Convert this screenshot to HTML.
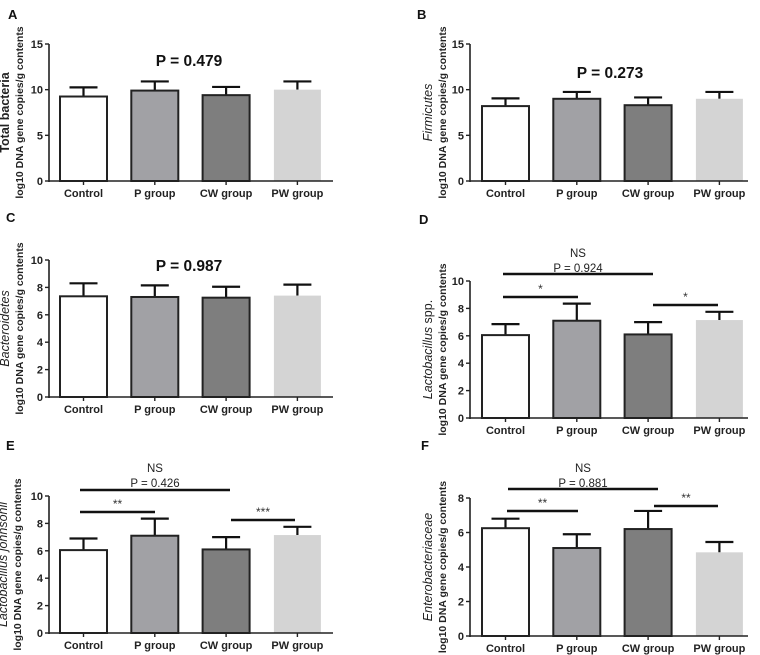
<!DOCTYPE html>
<html><head><meta charset="utf-8"><style>
html,body{margin:0;padding:0;background:#fff;}
svg{display:block;font-family:"Liberation Sans",Arial,sans-serif;}
</style></head><body>
<svg id="fig" width="760" height="655" viewBox="0 0 760 655" xmlns="http://www.w3.org/2000/svg"></svg>
<script>
const categories = ["Control","P group","CW group","PW group"];
const valuesA = [9.25, 9.9, 9.4, 10.0];
const errorsA = [1.0, 1.0, 0.9, 0.9];
const valuesB = [8.2, 9.0, 8.3, 9.0];
const errorsB = [0.85, 0.75, 0.85, 0.75];
const valuesC = [7.35, 7.3, 7.25, 7.4];
const errorsC = [0.95, 0.85, 0.8, 0.8];
const valuesD = [6.05, 7.1, 6.1, 7.15];
const errorsD = [0.8, 1.25, 0.9, 0.6];
const valuesE = [6.05, 7.1, 6.1, 7.15];
const errorsE = [0.85, 1.25, 0.9, 0.6];
const valuesF = [6.25, 5.1, 6.2, 4.85];
const errorsF = [0.55, 0.8, 1.05, 0.6];
const ticksA = [0,5,10,15];
const ticks10 = [0,2,4,6,8,10];
const ticks8 = [0,2,4,6,8];

const NS = "http://www.w3.org/2000/svg";
const svg = document.getElementById('fig');
const fills = ["#ffffff","#a1a1a5","#7e7e7e","#d4d4d4"];
const strokes = ["#222","#222","#222","none"];

function mk(tag, attrs, parent){
  const e = document.createElementNS(NS, tag);
  for (const k in attrs) e.setAttribute(k, attrs[k]);
  (parent||svg).appendChild(e);
  return e;
}
function txt(s, attrs, parent){ const t = mk('text', attrs, parent); t.textContent = s; return t; }

function panel(p){
  const g = mk('g', {});
  
  
  const yMax = p.ticks[p.ticks.length-1];
  const ys = v => p.y0 - (v / yMax) * (p.y0 - p.yTop);
  const xs = i => p.bx + i * 71.3;
  const bw = 47;
  const L = txt(p.id, {x:p.lx, y:p.ly, 'font-size':13, 'font-weight':'bold', fill:'#111'}, g);
  
  
  const ya = mk('line', {x1:p.ax, x2:p.ax, y1:p.yTop, y2:p.y0+1, stroke:'#222', 'stroke-width':1.6}, g);
  
  
  p.ticks.forEach(t => {
    mk('line', {x1:p.ax-4, x2:p.ax, y1:ys(t), y2:ys(t), stroke:'#222', 'stroke-width':1.4}, g);
    const tl = txt(String(t), {x:p.ax-6, y:ys(t)+4, 'font-size':11, 'font-weight':'bold', 'text-anchor':'end', fill:'#222'}, g);
    
    
  });
  p.values.forEach((v, i) => {
    const x = xs(i);
    const top = ys(v), eTop = ys(v + p.errors[i]);
    const cx = x + bw/2;
    mk('line', {x1:cx, x2:cx, y1:eTop, y2:top, stroke:'#111', 'stroke-width':2.2}, g);
    mk('line', {x1:cx-14, x2:cx+14, y1:eTop, y2:eTop, stroke:'#111', 'stroke-width':2.2}, g);
    const r = mk('rect', {x:x, y:top, width:bw, height:p.y0-top, fill:fills[i], stroke:strokes[i], 'stroke-width':strokes[i]==='none'?0:2}, g);
    
    
    mk('line', {x1:cx, x2:cx, y1:p.y0, y2:p.y0+4, stroke:'#222', 'stroke-width':1.4}, g);
    const cl = txt(categories[i], {x:cx, y:p.y0+16, 'font-size':11, 'font-weight':'bold', 'text-anchor':'middle', fill:'#222'}, g);
    
    
  });
  const xa = mk('line', {x1:p.ax, x2:p.ax+p.xl, y1:p.y0, y2:p.y0, stroke:'#222', 'stroke-width':1.6}, g);
  
  
  const cy = (p.yTop + p.y0)/2;
  const t1 = txt(p.title, {x:0, y:0, 'font-size':12.5, 'font-style':p.italic?'italic':'normal', 'font-weight':p.italic?'normal':'bold', 'text-anchor':'middle', fill:'#222', transform:`translate(${p.tx+5},${cy}) rotate(-90)`}, g);
  if (p.suffix){ const ts = mk('tspan', {'font-style':'normal'}, t1); ts.textContent = p.suffix; }
  
  
  const t2 = txt('log10 DNA gene copies/g contents', {x:0, y:0, 'font-size':10.5, 'font-weight':'bold', 'text-anchor':'middle', fill:'#222', transform:`translate(${p.tx+19},${cy}) rotate(-90)`}, g);
  
  
  if (p.pval){
    const pv = txt(p.pval, {x:p.ax+140, y:p.py, 'font-size':15.5, 'font-weight':'bold', 'text-anchor':'middle', fill:'#111'}, g);
    
    
  }
  if (p.sig){
    const s = p.sig;
    const ns = txt('NS', {x:(s.l1[0]+s.l1[1])/2, y:s.nsY, 'font-size':11.5, 'text-anchor':'middle', fill:'#222'}, g);
    
    
    const pp = txt(s.p, {x:(s.l1[0]+s.l1[1])/2, y:s.nsY+15, 'font-size':11.5, 'text-anchor':'middle', fill:'#222'}, g);
    
    
    const lines = [[s.l1, s.y1, ''], [s.l2, s.y2, s.s2], [s.l3, s.y3, s.s3]];
    lines.forEach(([xx, y, st]) => {
      const ln = mk('line', {x1:xx[0], x2:xx[1], y1:y, y2:y, stroke:'#111', 'stroke-width':2.6}, g);
      
      
      if (st){
        const sl = txt(st, {x:(xx[0]+xx[1])/2, y:y-4, 'font-size':12, 'text-anchor':'middle', fill:'#333'}, g);
        
        
      }
    });
  }
}

panel({id:'A', lx:8, ly:19, ax:49, xl:284, yTop:44, y0:181, bx:60, ticks:ticksA, values:valuesA, errors:errorsA, title:'Total bacteria', italic:false, tx:4, pval:'P = 0.479', py:66});
panel({id:'B', lx:417, ly:19, ax:470, xl:278, yTop:44, y0:181, bx:482, ticks:ticksA, values:valuesB, errors:errorsB, title:'Firmicutes', italic:true, tx:427, pval:'P = 0.273', py:78});
panel({id:'C', lx:6, ly:222, ax:49, xl:284, yTop:260, y0:397, bx:60, ticks:ticks10, values:valuesC, errors:errorsC, title:'Bacteroidetes', italic:true, tx:4, pval:'P = 0.987', py:271});
panel({id:'D', lx:419, ly:224, ax:470, xl:278, yTop:281, y0:418, bx:482, ticks:ticks10, values:valuesD, errors:errorsD, title:'Lactobacillus', suffix:' spp.', italic:true, tx:427, sig:{nsY:257, p:'P = 0.924', l1:[503,653], y1:274, l2:[503,578], y2:297, s2:'*', l3:[653,718], y3:305, s3:'*'}});
panel({id:'E', lx:6, ly:450, ax:49, xl:284, yTop:496, y0:633, bx:60, ticks:ticks10, values:valuesE, errors:errorsE, title:'Lactobacillus johnsonii', italic:true, tx:2, sig:{nsY:472, p:'P = 0.426', l1:[80,230], y1:490, l2:[80,155], y2:512, s2:'**', l3:[231,295], y3:520, s3:'***'}});
panel({id:'F', lx:421, ly:450, ax:470, xl:278, yTop:498, y0:636, bx:482, ticks:ticks8, values:valuesF, errors:errorsF, title:'Enterobacteriaceae', italic:true, tx:427, sig:{nsY:472, p:'P = 0.881', l1:[508,658], y1:489, l2:[507,578], y2:511, s2:'**', l3:[654,718], y3:506, s3:'**'}});
</script>
</body></html>
